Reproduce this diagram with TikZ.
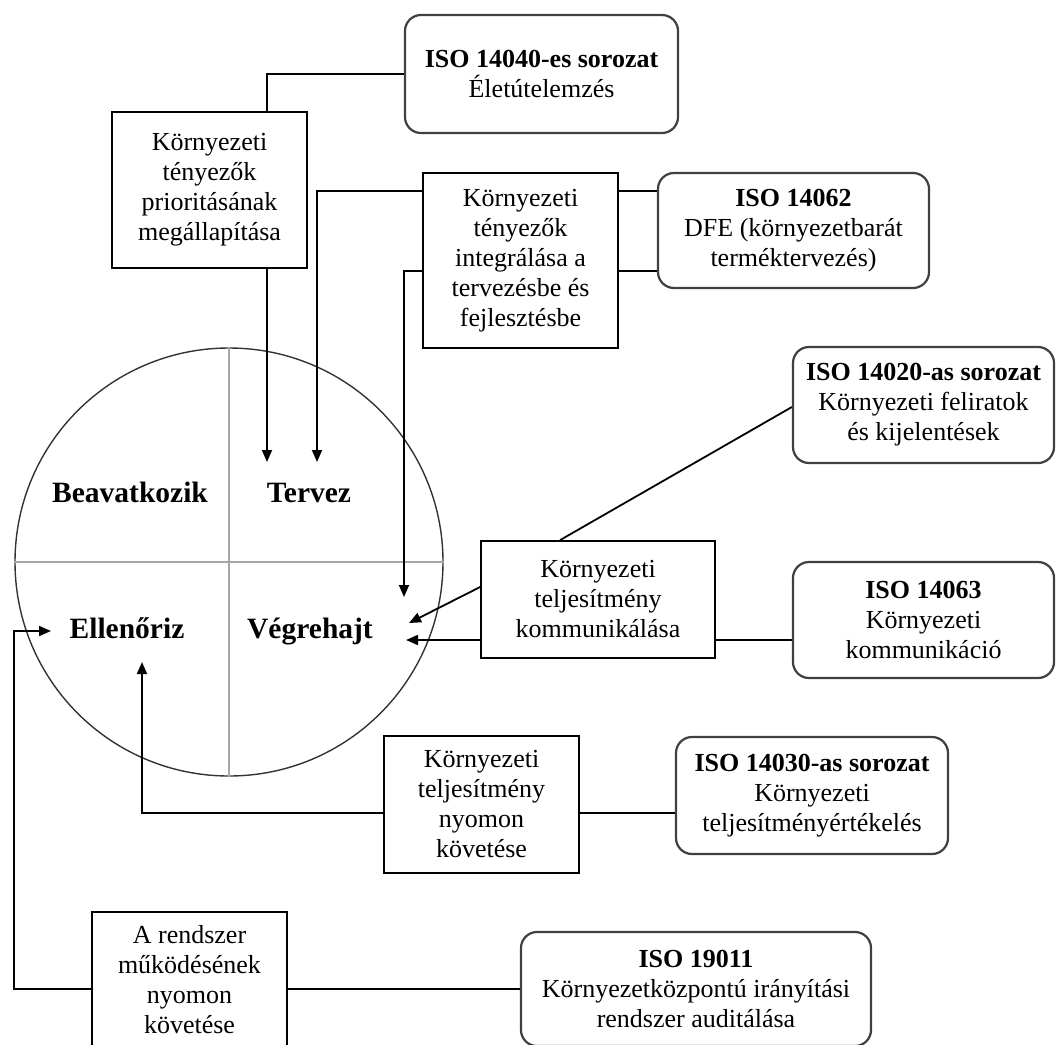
\documentclass[tikz,border=0pt]{standalone}
\usepackage{fontspec}
\setmainfont{Liberation Serif}
\usetikzlibrary{arrows.meta,calc}
\begin{document}
\begin{tikzpicture}[x=1pt,y=-1pt,
  sqbox/.style={draw=black, line width=1.7pt, inner sep=0pt, align=center, font=\fontsize{26}{30}\selectfont},
  isobox/.style={draw=black!75, line width=2.2pt, rounded corners=16pt, inner sep=0pt, align=center, font=\fontsize{26}{30}\selectfont},
  conn/.style={line width=1.8pt, black},
  arr/.style={conn, -{Triangle[length=12pt,width=10pt]}},
  phase/.style={anchor=base, font=\bfseries\fontsize{29.5}{32}\selectfont},
  quad/.style={line width=1.3pt, black!35}]
\useasboundingbox (0,0) rectangle (1057,1044);
\clip (0,0) rectangle (1057,1044);

% PDCA circle
\node[circle, draw=black!80, line width=1.4pt, minimum size=428pt, inner sep=0pt] (pdca) at (229,562) {};
\draw[quad] (pdca.north) -- (pdca.south);
\draw[quad] (pdca.west) -- (pdca.east);
\node[phase] (beav) at (130,502) {Beavatkozik};
\node[phase] (terv) at (309,502) {Tervez};
\node[phase] (ell) at (127,638) {Ellenőriz};
\node[phase] (veg) at (310,638) {Végrehajt};

% boxes
\node[sqbox, minimum width=195pt, minimum height=156pt] (b1) at (209.5,190)
  {Környezeti\\tényezők\\prioritásának\\megállapítása};
\node[isobox, minimum width=273pt, minimum height=118pt] (iso40) at (541.5,74)
  {\textbf{ISO 14040-es sorozat}\\Életútelemzés};
\node[sqbox, minimum width=195pt, minimum height=175pt] (b2) at (520.5,260.5)
  {Környezeti\\tényezők\\integrálása a\\tervezésbe és\\fejlesztésbe};
\node[isobox, minimum width=271pt, minimum height=115pt] (iso62) at (793.5,230.5)
  {\textbf{ISO 14062}\\DFE (környezetbarát\\terméktervezés)};
\node[isobox, minimum width=261pt, minimum height=116pt] (iso20) at (923.5,405)
  {\textbf{ISO 14020-as sorozat}\\Környezeti feliratok\\és kijelentések};
\node[sqbox, minimum width=234pt, minimum height=117pt] (comm) at (598,599.5)
  {Környezeti\\teljesítmény\\kommunikálása};
\node[isobox, minimum width=261pt, minimum height=116pt] (iso63) at (923.5,620)
  {\textbf{ISO 14063}\\Környezeti\\kommunikáció};
\node[sqbox, minimum width=195pt, minimum height=137pt] (mon) at (481.5,804.5)
  {Környezeti\\teljesítmény\\nyomon\\követése};
\node[isobox, minimum width=272pt, minimum height=117pt] (iso30) at (812,795.5)
  {\textbf{ISO 14030-as sorozat}\\Környezeti\\teljesítményértékelés};
\node[sqbox, minimum width=195pt, minimum height=136pt] (sys) at (189.5,980)
  {A rendszer\\működésének\\nyomon\\követése};
\node[isobox, minimum width=350pt, minimum height=114pt] (iso19) at (696,989)
  {\textbf{ISO 19011}\\Környezetközpontú irányítási\\rendszer auditálása};

% arrow tips / corners
\coordinate (tT1) at (267,462);
\coordinate (tT2) at (317,462);
\coordinate (tV1) at (404,597);
\coordinate (tV2) at (409,623);
\coordinate (tV3) at (406,640);
\coordinate (tE1) at (142,662);
\coordinate (tE2) at (51,631);
\coordinate (cL) at (14,631);

% connectors
\draw[conn] (b1.north -| tT1) |- (iso40.west);
\draw[arr] (b1.south -| tT1) -- (tT1);
\draw[arr] ([yshift=69.5pt]b2.west) -| (tT2);
\draw[arr] ([yshift=-10.5pt]b2.west) -| (tV1);
\draw[conn] ([yshift=69.5pt]b2.east) -- ([yshift=39.5pt]iso62.west);
\draw[conn] ([yshift=-10.5pt]b2.east) -- ([yshift=-40.5pt]iso62.west);
\draw[conn] ([xshift=-38pt]comm.north) -- ([yshift=-2pt]iso20.west);
\draw[arr] ([yshift=12.5pt]comm.west) -- (tV2);
\draw[arr] ([yshift=-40.5pt]comm.west) -- (tV3);
\draw[conn] ([yshift=-40.5pt]comm.east) -- ([yshift=-20pt]iso63.west);
\draw[arr] ([yshift=-8.5pt]mon.west) -| (tE1);
\draw[conn] ([yshift=-8.5pt]mon.east) -- ([yshift=-17.5pt]iso30.west);
\draw[arr] ([yshift=-9pt]sys.west) -| (cL) -- (tE2);
\draw[conn] ([yshift=-9pt]sys.east) -- (iso19.west);
\end{tikzpicture}
\end{document}
